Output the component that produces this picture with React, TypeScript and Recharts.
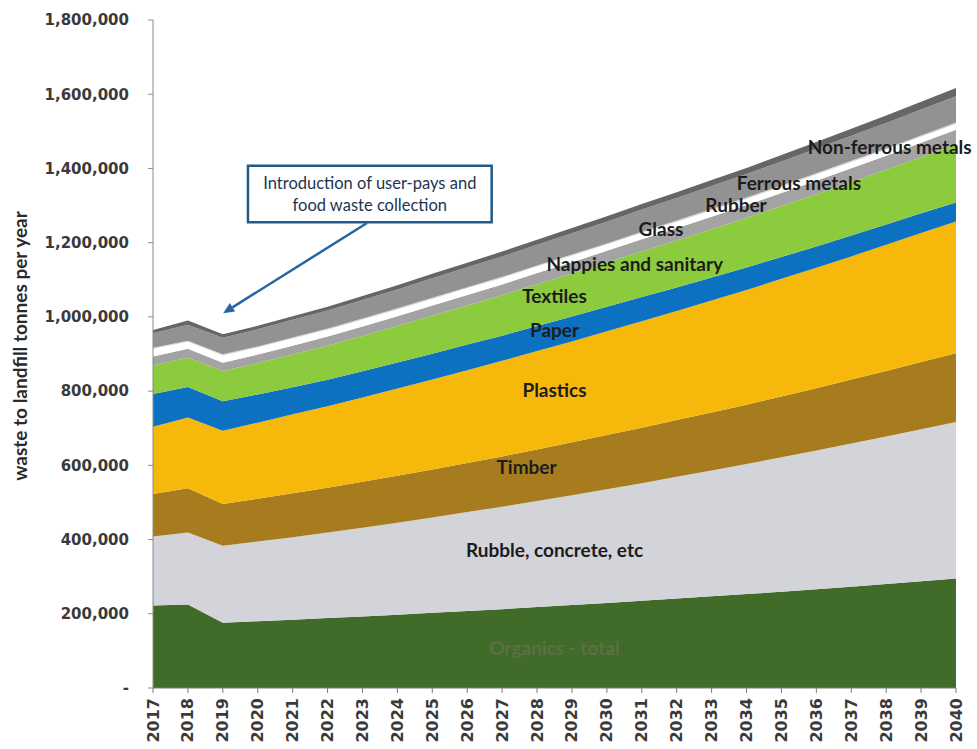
import { Area, AreaChart, ReferenceArea, ReferenceDot, ReferenceLine, XAxis, YAxis } from 'recharts'

const YEARS = [
  2017, 2018, 2019, 2020, 2021, 2022, 2023, 2024, 2025, 2026, 2027, 2028,
  2029, 2030, 2031, 2032, 2033, 2034, 2035, 2036, 2037, 2038, 2039, 2040,
]

// thousand tonnes per year
const ORGANICS = [222, 225, 176, 180, 184, 188.5, 193, 197.5, 202.5, 207.5, 212.5, 218, 223.5, 229, 235, 241, 247, 253, 259.5, 266, 273, 280, 287.5, 295]
const RUBBLE = [186, 194, 207, 214.5, 222.5, 230.5, 239, 248, 257, 266.5, 276, 286, 296, 306.5, 317, 328, 339, 350.5, 362, 374, 386, 398, 410, 422]
const TIMBER = [115, 119, 113, 115.5, 118, 120.5, 123.5, 126.5, 129.5, 132.5, 135.5, 139, 142.5, 146, 149.5, 153, 156.5, 160, 164, 168, 172, 176.5, 181, 185]
const PLASTICS = [181, 191, 197, 205, 213, 220, 227.5, 235, 242.5, 250, 257.5, 265, 272, 279.5, 287, 294, 301.5, 309, 317, 324.5, 332, 340, 347.5, 355]
const PAPER = [88, 82, 80, 76, 73, 71, 70.5, 70, 69.5, 69, 68, 67.5, 67, 66, 65, 63.5, 62, 60.5, 59, 57.5, 56, 54.5, 53, 51]
const TEXTILES = [77, 79, 81, 84.5, 88, 91.5, 95, 98.5, 102, 105.5, 109, 112.5, 116, 119.5, 123, 126.5, 130, 133.5, 137, 140.5, 144, 147.5, 151.5, 156]
const NAPPIES = [24, 24, 22.5, 23, 24, 25, 25.5, 26.5, 27.5, 28, 29, 30, 30.5, 31.5, 32.5, 33, 34, 35, 35.5, 36.5, 37.5, 38, 39, 40]
const GLASS = [21, 19, 19.5, 19, 19, 18.5, 18.5, 18, 18, 18, 17.5, 17.5, 17.5, 17, 17, 17, 17, 16.5, 16.5, 16.5, 16.5, 16, 16, 16]
const RUBBER = [3, 3, 3, 3, 3, 3, 3, 3, 3, 3, 3, 3, 3, 3, 3.5, 3.5, 3.5, 3.5, 3.5, 3.5, 3.5, 3.5, 3.5, 3.5]
const FERROUS = [39, 43, 45, 46, 47.5, 48.5, 50, 51, 52.5, 53.5, 55, 56, 57.5, 58.5, 60, 61, 62.5, 63.5, 65, 66, 67.5, 68.5, 70, 71]
const NON_FERROUS = [9, 11, 9, 9.5, 10, 10.5, 11, 11.5, 12, 12.5, 13, 13.5, 14, 14.5, 15, 15.5, 16, 16.5, 17, 18, 19, 20, 21, 22]

const Y_TICKS = [0, 200000, 400000, 600000, 800000, 1000000, 1200000, 1400000, 1600000, 1800000]

const LAYERS = [
  { key: 'organics', name: 'Organics - total', color: '#416b28', values: ORGANICS },
  { key: 'rubble', name: 'Rubble, concrete, etc', color: '#d3d3da', values: RUBBLE },
  { key: 'timber', name: 'Timber', color: '#a67c1e', values: TIMBER },
  { key: 'plastics', name: 'Plastics', color: '#f6b90b', values: PLASTICS },
  { key: 'paper', name: 'Paper', color: '#0b71c0', values: PAPER },
  { key: 'textiles', name: 'Textiles', color: '#8dcb3e', values: TEXTILES },
  { key: 'nappies', name: 'Nappies and sanitary', color: '#a3a3a3', values: NAPPIES },
  { key: 'glass', name: 'Glass', color: '#ffffff', values: GLASS },
  { key: 'rubber', name: 'Rubber', color: '#d9d9d9', values: RUBBER },
  { key: 'ferrous', name: 'Ferrous metals', color: '#929292', values: FERROUS },
  { key: 'nonferrous', name: 'Non-ferrous metals', color: '#666666', values: NON_FERROUS },
]

// where each band name is written, in year / tonnes
const BAND_LABELS = [
  { text: 'Non-ferrous metals', year: 2038.1, value: 1458000 },
  { text: 'Ferrous metals', year: 2035.5, value: 1361000 },
  { text: 'Rubber', year: 2033.7, value: 1301000 },
  { text: 'Glass', year: 2031.55, value: 1237000 },
  { text: 'Nappies and sanitary', year: 2030.8, value: 1142000 },
  { text: 'Textiles', year: 2028.5, value: 1056000 },
  { text: 'Paper', year: 2028.5, value: 965000 },
  { text: 'Plastics', year: 2028.5, value: 803000 },
  { text: 'Timber', year: 2027.7, value: 595000 },
  { text: 'Rubble, concrete, etc', year: 2028.5, value: 372000 },
  { text: 'Organics - total', year: 2028.5, value: 108000 },
]

const data = YEARS.map((year, i) => {
  const row: Record<string, number> = { year }
  LAYERS.forEach((l) => { row[l.key] = l.values[i] * 1000 })
  return row
})

const LABEL_FONT = 'Lato, "Open Sans", sans-serif'

function YearTick({ x, y, payload }: any) {
  return (
    <text x={x} y={y} transform={`rotate(-90 ${x} ${y})`} textAnchor="end" dominantBaseline="central"
      fontFamily="DejaVu Sans" fontWeight="bold" fontSize={16} fill="#3a3a3a">
      {payload.value}
    </text>
  )
}

function YTitle({ viewBox }: any) {
  const x = viewBox.x + 6
  const y = viewBox.y + viewBox.height / 2 - 8
  return (
    <text x={x} y={y} transform={`rotate(-90 ${x} ${y})`} textAnchor="middle" dominantBaseline="central"
      fontFamily={LABEL_FONT} fontWeight={700} fontSize={19} fill="#2a2a2a">
      waste to landfill tonnes per year
    </text>
  )
}

function NoteBox({ viewBox }: any) {
  const cx = viewBox.x + viewBox.width / 2
  return (
    <text textAnchor="middle" fontFamily={LABEL_FONT} fontSize={16.5} fill="#1d3550">
      <tspan x={cx} y={viewBox.y + 23}>Introduction of user-pays and</tspan>
      <tspan x={cx} y={viewBox.y + 45}>food waste collection</tspan>
    </text>
  )
}

function Arrow({ x1, y1, x2, y2 }: any) {
  const a = Math.atan2(y2 - y1, x2 - x1)
  const len = 11
  const half = 5
  const bx = x2 - len * Math.cos(a)
  const by = y2 - len * Math.sin(a)
  const pts = `${x2},${y2} ${bx + half * Math.sin(a)},${by - half * Math.cos(a)} ${bx - half * Math.sin(a)},${by + half * Math.cos(a)}`
  return (
    <g>
      <line x1={x1} y1={y1} x2={bx} y2={by} stroke="#2466a3" strokeWidth={2.5} />
      <polygon points={pts} fill="#2466a3" />
    </g>
  )
}

export default function App() {
  return (
    <div style={{ position: 'absolute', left: 0, top: 0, width: 977, height: 749, background: '#fff' }}>
      <AreaChart width={977} height={749} data={data} margin={{ top: 20, right: 21, bottom: 0, left: 13 }}>
        <XAxis dataKey="year" type="number" domain={[2017, 2040]} ticks={YEARS} interval={0}
          height={61} tickSize={5} tickMargin={5} tick={<YearTick />}
          axisLine={{ stroke: '#7a7a7a' }} tickLine={{ stroke: '#7a7a7a' }} />
        <YAxis domain={[0, 1800000]} ticks={Y_TICKS} width={140} tickSize={5} tickMargin={19}
          tickFormatter={(v: number) => (v === 0 ? '-' : v.toLocaleString('en-US'))}
          tick={{ fontFamily: 'DejaVu Sans', fontWeight: 'bold', fontSize: 15, fill: '#3a3a3a' }}
          axisLine={{ stroke: '#8a8a8a' }} tickLine={{ stroke: '#8a8a8a' }}
          label={(p: any) => <YTitle {...p} />} />
        {LAYERS.map((l) => (
          <Area key={l.key} dataKey={l.key} name={l.name} stackId="waste" type="linear"
            fill={l.color} fillOpacity={1} stroke="none" dot={false} activeDot={false}
            isAnimationActive={false} />
        ))}
        {BAND_LABELS.map((b) => (
          <ReferenceDot key={b.text} x={b.year} y={b.value} r={0} fill="none" stroke="none" ifOverflow="visible"
            label={{ value: b.text, position: 'center', fontFamily: LABEL_FONT, fontWeight: 700, fontSize: 19,
              fill: b.text === 'Organics - total' ? '#5e6f45' : '#1c1c1c' }} />
        ))}
        <ReferenceArea x1={2019.72} x2={2026.7} y1={1255000} y2={1407000} fill="#ffffff" fillOpacity={1}
          stroke="#1f5c8c" strokeWidth={2.5} ifOverflow="visible" label={(p: any) => <NoteBox {...p} />} />
        <ReferenceLine segment={[{ x: 2023.13, y: 1253000 }, { x: 2019.01, y: 1010000 }]} ifOverflow="visible"
          shape={(p: any) => <Arrow {...p} />} />
      </AreaChart>
    </div>
  )
}
